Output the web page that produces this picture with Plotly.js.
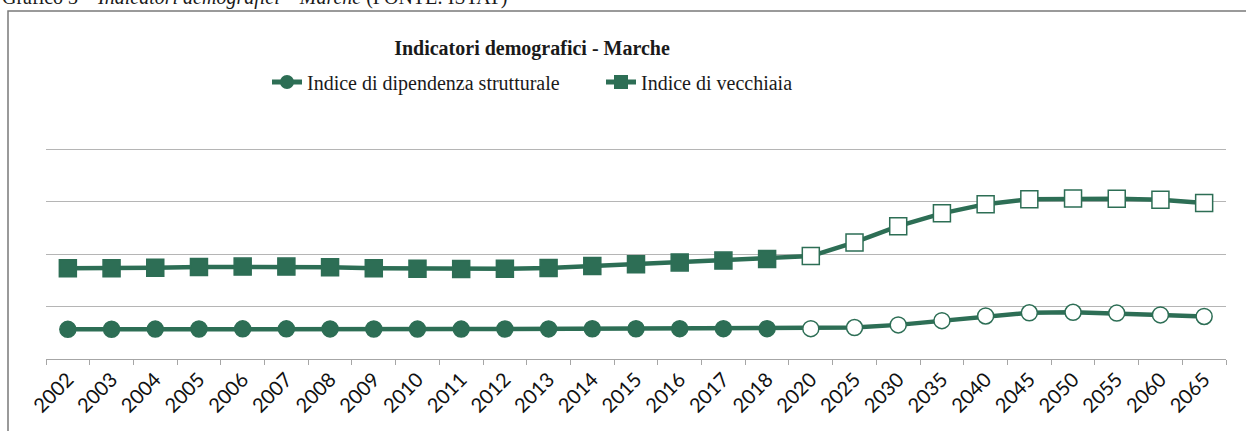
<!DOCTYPE html>
<html>
<head>
<meta charset="utf-8">
<script src="https://cdn.plot.ly/plotly-3.0.1.min.js"></script>
<style>
  html, body { margin: 0; padding: 0; background: #ffffff; }
  #chart { width: 1246px; height: 431px; }
</style>
</head>
<body>
<div id="chart"></div>
<script>
// Categories (years) — historical up to 2018, projections from 2020
var years = ['2002','2003','2004','2005','2006','2007','2008','2009','2010','2011','2012','2013','2014','2015','2016','2017','2018',
             '2020','2025','2030','2035','2040','2045','2050','2055','2060','2065'];
var firstProjectionYear = '2020';

// Indice di dipendenza strutturale
var dipendenza = [56.5, 56.8, 57.0, 57.2, 57.5, 57.5, 57.3, 57.2, 57.0, 57.0, 57.2, 57.3, 57.6, 57.6, 57.8, 57.8, 57.8,
                  57.8, 60.0, 65.0, 73.0, 82.0, 88.0, 89.0, 87.5, 84.0, 81.0];

// Indice di vecchiaia
var vecchiaia = [173, 173, 174, 175.5, 176, 176, 175, 173, 172, 171.5, 172, 173.5, 177, 180.5, 184, 187.5, 190.5,
                 196, 222, 253, 277.5, 295, 304.5, 306, 305.5, 303.5, 297];

var green = '#2d6e55';
var projIdx = years.indexOf(firstProjectionYear);
var fillColors = years.map(function (y, i) { return i < projIdx ? green : '#ffffff'; });

var traces = [
  {
    type: 'scatter', mode: 'lines+markers', name: 'Indice di dipendenza strutturale',
    x: years, y: dipendenza,
    line: { color: green, width: 4.5 },
    marker: { symbol: 'circle', size: 16, color: fillColors, line: { color: green, width: 1.5 } },
    hoverinfo: 'x+y'
  },
  {
    type: 'scatter', mode: 'lines+markers', name: 'Indice di vecchiaia',
    x: years, y: vecchiaia,
    line: { color: green, width: 4.5 },
    marker: { symbol: 'square', size: 17, color: fillColors, line: { color: green, width: 1.5 } },
    hoverinfo: 'x+y'
  }
];

// pixel helpers for paper coordinates
var L = 46, R = 1226, T = 148, B = 359;
function px(x) { return (x - L) / (R - L); }
function py(y) { return (B - y) / (B - T); }

var layout = {
  width: 1246, height: 431,
  margin: { l: L, r: 1246 - R, t: T, b: 431 - B },
  paper_bgcolor: '#ffffff', plot_bgcolor: '#ffffff',
  font: { family: 'Liberation Serif, serif', color: '#1a1a1a' },
  showlegend: true,
  title: {
    text: '<b>Indicatori demografici - Marche</b>',
    font: { family: 'Liberation Serif, serif', size: 20, color: '#1a1a1a' },
    xref: 'container', x: 532 / 1246, xanchor: 'center',
    yref: 'container', y: 1 - 48 / 431, yanchor: 'middle'
  },
  legend: {
    orientation: 'h',
    x: px(267), xanchor: 'left',
    y: py(82), yanchor: 'middle',
    font: { family: 'Liberation Serif, serif', size: 20, color: '#1a1a1a' },
    itemsizing: 'constant',
    entrywidthmode: 'pixels', entrywidth: 289,
    bgcolor: 'rgba(0,0,0,0)'
  },
  xaxis: {
    type: 'category',
    range: [-0.5, years.length - 0.5],
    showgrid: false, zeroline: false,
    showline: true, linecolor: '#a6a6a6', linewidth: 1,
    ticks: 'outside', tickson: 'boundaries', ticklen: 5, tickcolor: '#a6a6a6',
    tickangle: -45,
    tickfont: { family: 'Lato, sans-serif', size: 20, color: '#111111' },
    fixedrange: true
  },
  yaxis: {
    range: [0, 402], tick0: 0, dtick: 100,
    showticklabels: false, ticks: '',
    showgrid: true, gridcolor: '#b5b5b5', gridwidth: 1,
    zeroline: false, showline: false,
    fixedrange: true
  },
  shapes: [
    { type: 'rect', xref: 'paper', yref: 'paper',
      x0: px(8), x1: px(1260), y0: py(445), y1: py(11),
      line: { color: '#7a7a7a', width: 1.5 }, fillcolor: 'rgba(0,0,0,0)', layer: 'below' }
  ],
  annotations: [
    { xref: 'paper', yref: 'paper', x: px(0), y: py(11), xanchor: 'left', yanchor: 'bottom',
      showarrow: false,
      text: 'Grafico 3 – <i>Indicatori demografici – Marche</i> (FONTE: ISTAT)',
      font: { family: 'Liberation Serif, serif', size: 20, color: '#1a1a1a' } }
  ]
};

Plotly.newPlot('chart', traces, layout, { displayModeBar: false, staticPlot: true });
</script>
</body>
</html>
